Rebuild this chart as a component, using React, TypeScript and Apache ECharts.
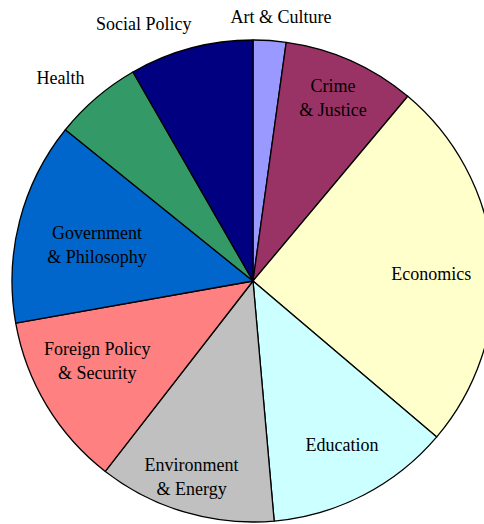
import React, { useEffect, useRef } from "react";
import * as echarts from "echarts";

const categories = [
  "Art & Culture",
  "Crime\n& Justice",
  "Economics",
  "Education",
  "Environment\n& Energy",
  "Foreign Policy\n& Security",
  "Government\n& Philosophy",
  "Health",
  "Social Policy",
];
const values = [2.2, 8.9, 25.1, 12.4, 11.9, 11.7, 13.6, 5.9, 8.3];

const colors = [
  "#9999ff",
  "#993366",
  "#ffffcc",
  "#ccffff",
  "#c0c0c0",
  "#ff8080",
  "#0066cc",
  "#339966",
  "#000080",
];

// label placement: radius as a fraction of pie radius, angle shift in degrees
const labelRadius = [1.1, 0.83, 0.74, 0.775, 0.853, 0.726, 0.664, 1.162, 1.158];
const labelAngleShift = [2.1, -0.4, 2.5, -1.1, 1.0, 4.1, -1.5, -2.9, -8.1];

const CX = 253;
const CY = 281;
const R = 241;

export default function App() {
  const ref = useRef<HTMLDivElement>(null);
  useEffect(() => {
    if (!ref.current) return;
    const chart = echarts.init(ref.current, undefined, { renderer: "svg" });
    const total = values.reduce((a, b) => a + b, 0);
    const mids: number[] = [];
    let acc = 0;
    values.forEach((v) => {
      mids.push(((acc + v / 2) / total) * 360);
      acc += v;
    });
    chart.setOption({
      animation: false,
      backgroundColor: "#ffffff",
      series: [
        {
          type: "pie",
          center: [CX, CY],
          radius: [0, R],
          startAngle: 90,
          clockwise: true,
          avoidLabelOverlap: false,
          data: categories.map((name, i) => ({
            name,
            value: values[i],
            itemStyle: { color: colors[i] },
          })),
          itemStyle: { borderColor: "#000000", borderWidth: 1.3 },
          label: {
            show: true,
            position: "inside",
            formatter: "{b}",
            fontFamily: "'Liberation Serif', 'Times New Roman', serif",
            fontSize: 18,
            lineHeight: 24,
            color: "#000000",
            align: "center",
            verticalAlign: "middle",
          },
          labelLine: { show: false },
          emphasis: { disabled: true },
          labelLayout: (params: any) => {
            const i = params.dataIndex;
            const a = ((mids[i] + labelAngleShift[i]) * Math.PI) / 180;
            const r = R * labelRadius[i];
            return {
              x: CX + r * Math.sin(a),
              y: CY - r * Math.cos(a),
              align: "center",
              verticalAlign: "middle",
            };
          },
        },
      ],
    });
    return () => chart.dispose();
  }, []);
  return (
    <div
      ref={ref}
      style={{ position: "fixed", left: 0, top: 0, width: 484, height: 524 }}
    />
  );
}
